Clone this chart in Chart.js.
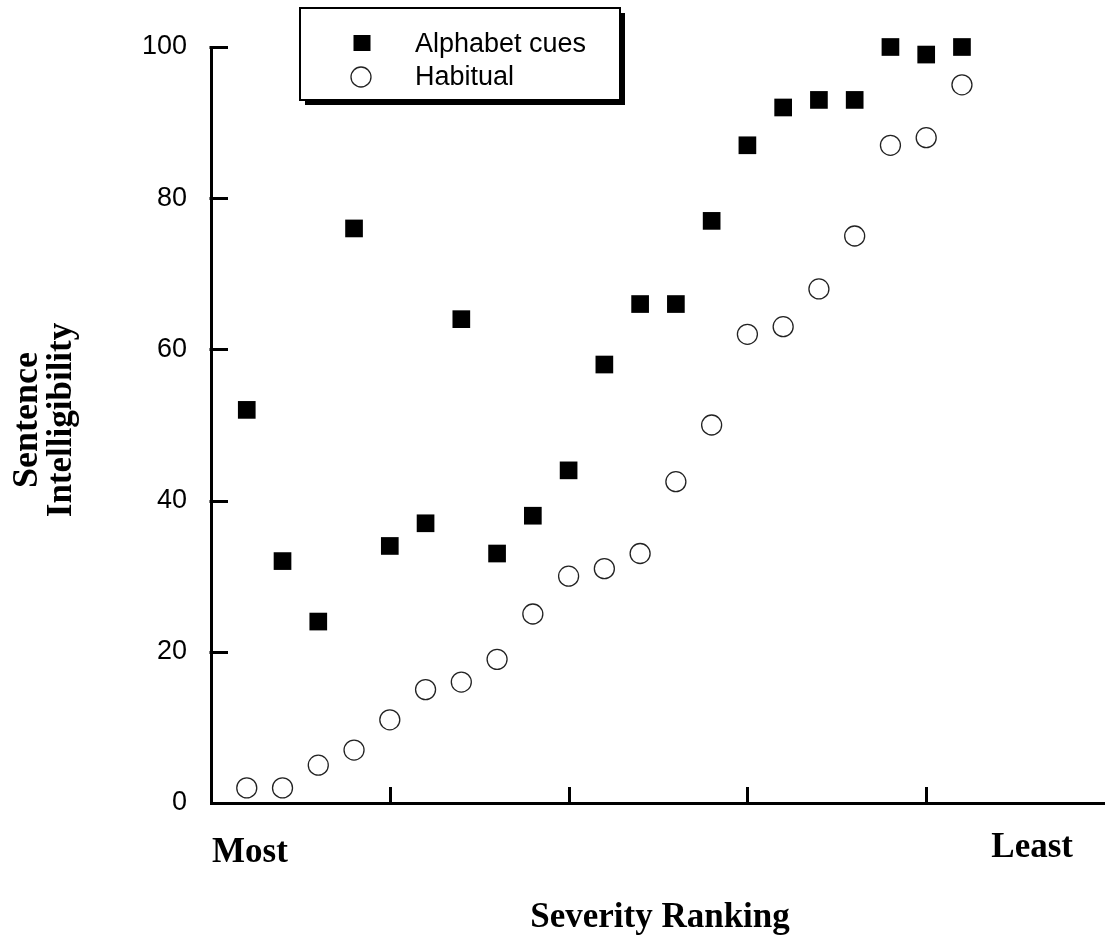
<!DOCTYPE html>
<html>
<head>
<meta charset="utf-8">
<script src="https://cdn.jsdelivr.net/npm/chart.js@4.4.1/dist/chart.umd.min.js"></script>
<style>
  html, body { margin: 0; padding: 0; background: #fff; }
  #wrap { width: 1105px; height: 936px; position: relative; }
</style>
</head>
<body>
<div id="wrap"><canvas id="c"></canvas></div>
<script>
// ---- Data ----
const severityRank = [1, 2, 3, 4, 5, 6, 7, 8, 9, 10, 11, 12, 13, 14, 15, 16, 17, 18, 19, 20, 21];
const alphabetCues = [52, 32, 24, 76, 34, 37, 64, 33, 38, 44, 58, 66, 66, 77, 87, 92, 93, 93, 100, 99, 100];
const habitual     = [2, 2, 5, 7, 11, 15, 16, 19, 25, 30, 31, 33, 42.5, 50, 62, 63, 68, 75, 87, 88, 95];
const yTickValues  = [0, 20, 40, 60, 80, 100];
const xEndLabels   = ['Most', 'Least'];
const seriesNames  = ['Alphabet cues', 'Habitual'];
const xTitle = 'Severity Ranking';
const yTitleLines = ['Sentence', 'Intelligibility'];

const toPts = (vals) => vals.map((v, i) => ({ x: severityRank[i], y: v }));

const serif = '"Liberation Serif", "Times New Roman", serif';
const sans = '"Liberation Sans", Arial, sans-serif';

const decor = {
  id: 'decor',
  afterDraw(chart) {
    const ctx = chart.ctx;
    const xs = chart.scales.x, ys = chart.scales.y;
    const ca = chart.chartArea;
    ctx.save();
    // inward tick marks
    ctx.strokeStyle = '#000';
    ctx.lineWidth = 3;
    ctx.beginPath();
    xs.ticks.forEach(t => {
      if (t.value <= xs.min || t.value >= xs.max) return;
      const px = Math.round(xs.getPixelForValue(t.value)) + 0.5;
      ctx.moveTo(px, ca.bottom);
      ctx.lineTo(px, ca.bottom - 16);
    });
    ys.ticks.forEach(t => {
      if (t.value <= ys.min) return;
      const py = Math.round(ys.getPixelForValue(t.value)) + 0.5;
      ctx.moveTo(ca.left - 1.5, py);
      ctx.lineTo(ca.left + 17, py);
    });
    ctx.stroke();

    // end labels
    ctx.fillStyle = '#000';
    ctx.font = 'bold 35px ' + serif;
    ctx.textBaseline = 'alphabetic';
    ctx.textAlign = 'left';
    ctx.fillText(xEndLabels[0], ca.left + 1, 862);
    ctx.textAlign = 'right';
    ctx.fillText(xEndLabels[1], 1073, 857);

    // x title
    ctx.textAlign = 'center';
    ctx.fillText(xTitle, 660, 927);

    // y title (two lines, rotated)
    ctx.save();
    ctx.translate(0, 420);
    ctx.rotate(-Math.PI / 2);
    ctx.textAlign = 'center';
    ctx.font = 'bold 36px ' + serif;
    ctx.fillText(yTitleLines[0], 0, 37);
    ctx.font = 'bold 35px ' + serif;
    ctx.fillText(yTitleLines[1], 0, 71);
    ctx.restore();

    // legend box with shadow
    const bx = 300, by = 8, bw = 320, bh = 92;
    ctx.fillStyle = '#000';
    ctx.fillRect(bx + 5, by + 5, bw, bh);
    ctx.fillStyle = '#fff';
    ctx.fillRect(bx, by, bw, bh);
    ctx.strokeStyle = '#000';
    ctx.lineWidth = 2;
    ctx.strokeRect(bx, by, bw, bh);

    const ds = chart.data.datasets;
    // markers
    ctx.fillStyle = ds[0].backgroundColor;
    ctx.fillRect(362 - 8.5, 43 - 8, 17, 16);
    ctx.beginPath();
    ctx.arc(361, 77, 10, 0, Math.PI * 2);
    ctx.fillStyle = ds[1].backgroundColor;
    ctx.fill();
    ctx.lineWidth = ds[1].borderWidth;
    ctx.strokeStyle = ds[1].borderColor;
    ctx.stroke();

    ctx.fillStyle = '#000';
    ctx.font = '27px ' + sans;
    ctx.textAlign = 'left';
    ctx.fillText(ds[0].label, 415, 52);
    ctx.fillText(ds[1].label, 415, 85);
    ctx.restore();
  }
};

new Chart(document.getElementById('c'), {
  type: 'scatter',
  data: {
    datasets: [
      {
        label: seriesNames[0],
        data: toPts(alphabetCues),
        pointStyle: 'rect',
        pointRadius: 12.5,
        pointHoverRadius: 12.5,
        backgroundColor: '#000',
        borderColor: '#000',
        borderWidth: 0,
        clip: false
      },
      {
        label: seriesNames[1],
        data: toPts(habitual),
        pointStyle: 'circle',
        pointRadius: 10,
        pointHoverRadius: 10,
        backgroundColor: '#fff',
        borderColor: '#222',
        borderWidth: 1.3,
        clip: false
      }
    ]
  },
  options: {
    responsive: true,
    maintainAspectRatio: false,
    animation: false,
    events: [],
    layout: { autoPadding: false, padding: { top: 47, left: 0, right: 0, bottom: 0 } },
    plugins: { legend: { display: false }, tooltip: { enabled: false } },
    scales: {
      x: {
        type: 'linear',
        min: 0, max: 25,
        ticks: { stepSize: 5, display: false },
        grid: { display: false, drawTicks: false },
        border: { display: true, color: '#000', width: 3 },
        afterFit(s) { s.height = 133; }
      },
      y: {
        min: 0, max: 100,
        afterBuildTicks(s) { s.ticks = yTickValues.map(v => ({ value: v })); },
        ticks: {
          color: '#000',
          padding: 24,
          font: { family: sans, size: 27 }
        },
        grid: { display: false, drawTicks: false },
        border: { display: true, color: '#000', width: 3 },
        afterFit(s) { s.width = 211; }
      }
    }
  },
  plugins: [decor]
});
</script>
</body>
</html>
